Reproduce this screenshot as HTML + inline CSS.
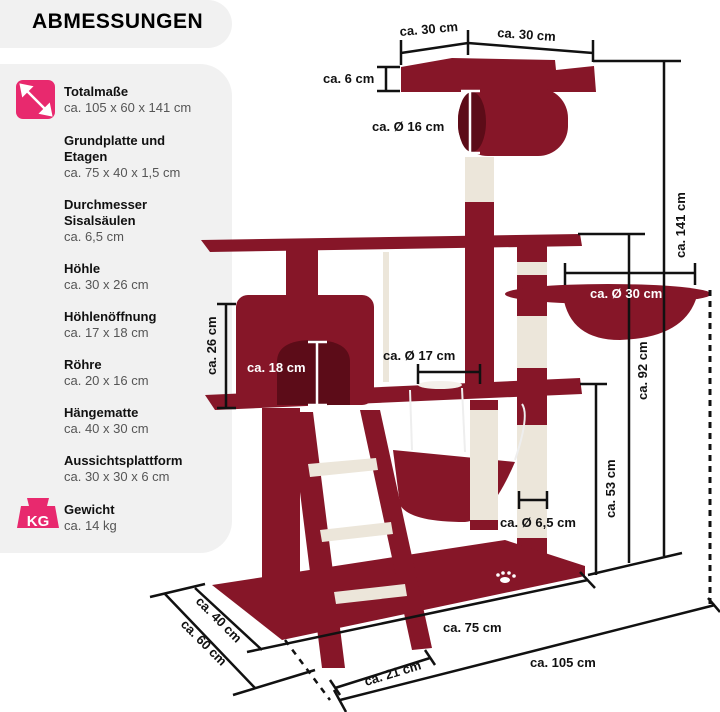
<!DOCTYPE html>
<html><head><meta charset="utf-8"><style>
html,body{margin:0;padding:0;background:#fff;}
body{width:720px;height:712px;position:relative;overflow:hidden;font-family:"Liberation Sans",sans-serif;}
.box{position:absolute;left:0;background:#f1f1f1;border-radius:0 24px 24px 0;}
.t{position:absolute;left:64px;font-size:13px;color:#111;line-height:16px;}
.t b{font-weight:bold;}
.t span{color:#555;}
svg{position:absolute;left:0;top:0;}
</style></head><body>
<div class="box" style="top:0;width:232px;height:48px;"></div>
<div style="position:absolute;left:32px;top:10px;font-weight:900;font-size:21px;letter-spacing:0.5px;color:#000;">ABMESSUNGEN</div>
<div class="box" style="top:64px;width:232px;height:489px;border-radius:0 32px 32px 0;"></div>
<div style="position:absolute;left:16px;top:80px;width:39px;height:39px;background:#e8296e;border-radius:7px;"></div>
<svg width="720" height="712" viewBox="0 0 720 712">
<g stroke="#fff" stroke-width="2.5" fill="#fff"><line x1="24" y1="88" x2="48" y2="112"/><polygon points="21,85 31,87 23,95"/><polygon points="51,115 41,113 49,105"/></g>
<path d="M27 498 h22 l-2 8 h8 l4 22 h-42 l4 -22 h8z" fill="#e8296e"/>
<text x="38" y="526" font-family="Liberation Sans" font-weight="bold" font-size="15" fill="#fff" text-anchor="middle">KG</text>

<g fill="#861628">
<polygon points="401,67 452,58 555,60 556,70 594,66 596,92 401,92"/>
<rect x="458" y="88" width="110" height="68" rx="30"/>
<rect x="465" y="200" width="29" height="185"/>
<rect x="470" y="400" width="28" height="130"/>
<polygon points="201,240 580,234 582,246 210,252"/>
<rect x="286" y="250" width="32" height="55"/>
<rect x="236" y="295" width="138" height="110" rx="12"/>
<rect x="517" y="246" width="30" height="322"/>
<ellipse cx="608" cy="294" rx="103" ry="10"/>
<path d="M563 296 Q570 340 620 340 Q685 338 697 296 Z"/>
<polygon points="205,395 580,378 582,394 215,410"/>
<polygon points="212,585 505,540 585,566 585,576 282,640"/>
<rect x="262" y="408" width="38" height="195"/>
<polygon points="290,412 313,412 345,668 322,668"/>
<polygon points="360,410 380,410 432,648 412,650"/>
<path d="M393 450 L515 462 Q490 520 465 522 Q410 522 400 505 Z"/>
</g>
<g fill="#5c0c18">
<ellipse cx="472" cy="122" rx="14" ry="30"/>
<path d="M277 405 V362 Q277 340 313 340 Q350 340 350 362 V405Z"/>
</g>
<ellipse cx="440" cy="385" rx="22" ry="4" fill="#f4f0ea"/>
<g fill="#ece6da">
<rect x="465" y="157" width="29" height="45"/>
<rect x="470" y="410" width="28" height="110"/>
<rect x="517" y="262" width="30" height="13"/>
<rect x="517" y="316" width="30" height="52"/>
<rect x="517" y="425" width="30" height="113"/>
<rect x="383" y="252" width="6" height="130"/>
<polygon points="308,464 376,458 378,470 310,477"/>
<polygon points="320,530 391,522 393,534 322,542"/>
<polygon points="334,592 405,584 407,596 336,604"/>
</g>
<g stroke="#eee" stroke-width="2" fill="none"><path d="M410 390 L412 450 M462 388 L465 452 M522 404 Q530 415 515 460"/></g>
<g fill="#fff"><ellipse cx="505" cy="580" rx="5" ry="3"/><circle cx="498" cy="575" r="1.8"/><circle cx="503" cy="573" r="1.8"/><circle cx="509" cy="573" r="1.8"/><circle cx="514" cy="576" r="1.8"/></g>

<g stroke="#111" stroke-width="2.5" fill="none">
<polyline points="401,53 468,43 593,53"/>
<line x1="401" y1="40" x2="401" y2="65"/><line x1="468" y1="30" x2="468" y2="55"/><line x1="593" y1="40" x2="593" y2="62"/>
<line x1="386" y1="67" x2="386" y2="91"/><line x1="377" y1="67" x2="400" y2="67"/><line x1="377" y1="91" x2="400" y2="91"/>
<line x1="593" y1="61" x2="681" y2="61"/><line x1="664" y1="61" x2="664" y2="556"/>
<line x1="578" y1="234" x2="645" y2="234"/><line x1="629" y1="234" x2="629" y2="563"/>
<line x1="565" y1="273" x2="695" y2="273"/><line x1="565" y1="263" x2="565" y2="285"/><line x1="695" y1="263" x2="695" y2="285"/>
<line x1="580" y1="384" x2="607" y2="384"/><line x1="596" y1="384" x2="596" y2="575"/>
<line x1="588" y1="575" x2="682" y2="553"/>
<line x1="519" y1="500" x2="547" y2="500"/><line x1="519" y1="491" x2="519" y2="509"/><line x1="547" y1="491" x2="547" y2="509"/>
<line x1="226" y1="304" x2="226" y2="408"/><line x1="217" y1="304" x2="236" y2="304"/><line x1="217" y1="408" x2="236" y2="408"/>
<line x1="418" y1="372" x2="480" y2="372"/><line x1="418" y1="364" x2="418" y2="384"/><line x1="480" y1="364" x2="480" y2="384"/>
<line x1="150" y1="597" x2="205" y2="584"/>
<line x1="165" y1="594" x2="255" y2="688"/><line x1="233" y1="695" x2="315" y2="670"/>
<line x1="195" y1="588" x2="262" y2="650"/>
<line x1="247" y1="652" x2="588" y2="580"/><line x1="580" y1="572" x2="595" y2="588"/>
<line x1="335" y1="688" x2="430" y2="658"/><line x1="330" y1="680" x2="340" y2="695"/><line x1="425" y1="650" x2="435" y2="665"/>
<line x1="340" y1="700" x2="715" y2="605"/><line x1="334" y1="690" x2="346" y2="712"/><line x1="708" y1="598" x2="720" y2="612"/>
</g>
<line x1="710" y1="290" x2="710" y2="608" stroke="#111" stroke-width="3" stroke-dasharray="6,5"/>
<line x1="285" y1="640" x2="330" y2="700" stroke="#111" stroke-width="2.5" stroke-dasharray="6,6"/>
<g stroke="#fff" stroke-width="2.5">
<line x1="470" y1="91" x2="470" y2="153"/><line x1="461" y1="91" x2="480" y2="91"/><line x1="461" y1="153" x2="480" y2="153"/>
<line x1="317" y1="342" x2="317" y2="405"/><line x1="308" y1="342" x2="327" y2="342"/><line x1="308" y1="405" x2="327" y2="405"/>
</g>
<g font-family="Liberation Sans" font-weight="bold" font-size="13" fill="#111">
<text x="400" y="36" transform="rotate(-5 400 36)">ca. 30 cm</text>
<text x="497" y="37" transform="rotate(4 497 37)">ca. 30 cm</text>
<text x="323" y="83">ca. 6 cm</text>
<text x="372" y="131">ca. Ø 16 cm</text>
<text x="685" y="258" transform="rotate(-90 685 258)">ca. 141 cm</text>
<text x="647" y="400" transform="rotate(-90 647 400)">ca. 92 cm</text>
<text x="615" y="518" transform="rotate(-90 615 518)">ca. 53 cm</text>
<text x="216" y="375" transform="rotate(-90 216 375)">ca. 26 cm</text>
<text x="383" y="360">ca. Ø 17 cm</text>
<text x="500" y="527">ca. Ø 6,5 cm</text>
<text x="443" y="632">ca. 75 cm</text>
<text x="530" y="667">ca. 105 cm</text>
<text x="366" y="686" transform="rotate(-17 366 686)">ca. 21 cm</text>
<text x="195" y="602" transform="rotate(45 195 602)">ca. 40 cm</text>
<text x="180" y="625" transform="rotate(45 180 625)">ca. 60 cm</text>
<text x="590" y="298" fill="#fff">ca. Ø 30 cm</text>
<text x="247" y="372" fill="#fff">ca. 18 cm</text>
</g>
</svg>
<div class="t" style="top:84px"><b>Totalmaße</b><br><span>ca. 105 x 60 x 141 cm</span></div>
<div class="t" style="top:133px"><b>Grundplatte und<br>Etagen</b><br><span>ca. 75 x 40 x 1,5 cm</span></div>
<div class="t" style="top:197px"><b>Durchmesser<br>Sisalsäulen</b><br><span>ca. 6,5 cm</span></div>
<div class="t" style="top:261px"><b>Höhle</b><br><span>ca. 30 x 26 cm</span></div>
<div class="t" style="top:309px"><b>Höhlenöffnung</b><br><span>ca. 17 x 18 cm</span></div>
<div class="t" style="top:357px"><b>Röhre</b><br><span>ca. 20 x 16 cm</span></div>
<div class="t" style="top:405px"><b>Hängematte</b><br><span>ca. 40 x 30 cm</span></div>
<div class="t" style="top:453px"><b>Aussichtsplattform</b><br><span>ca. 30 x 30 x 6 cm</span></div>
<div class="t" style="top:502px"><b>Gewicht</b><br><span>ca. 14 kg</span></div>
</body></html>
